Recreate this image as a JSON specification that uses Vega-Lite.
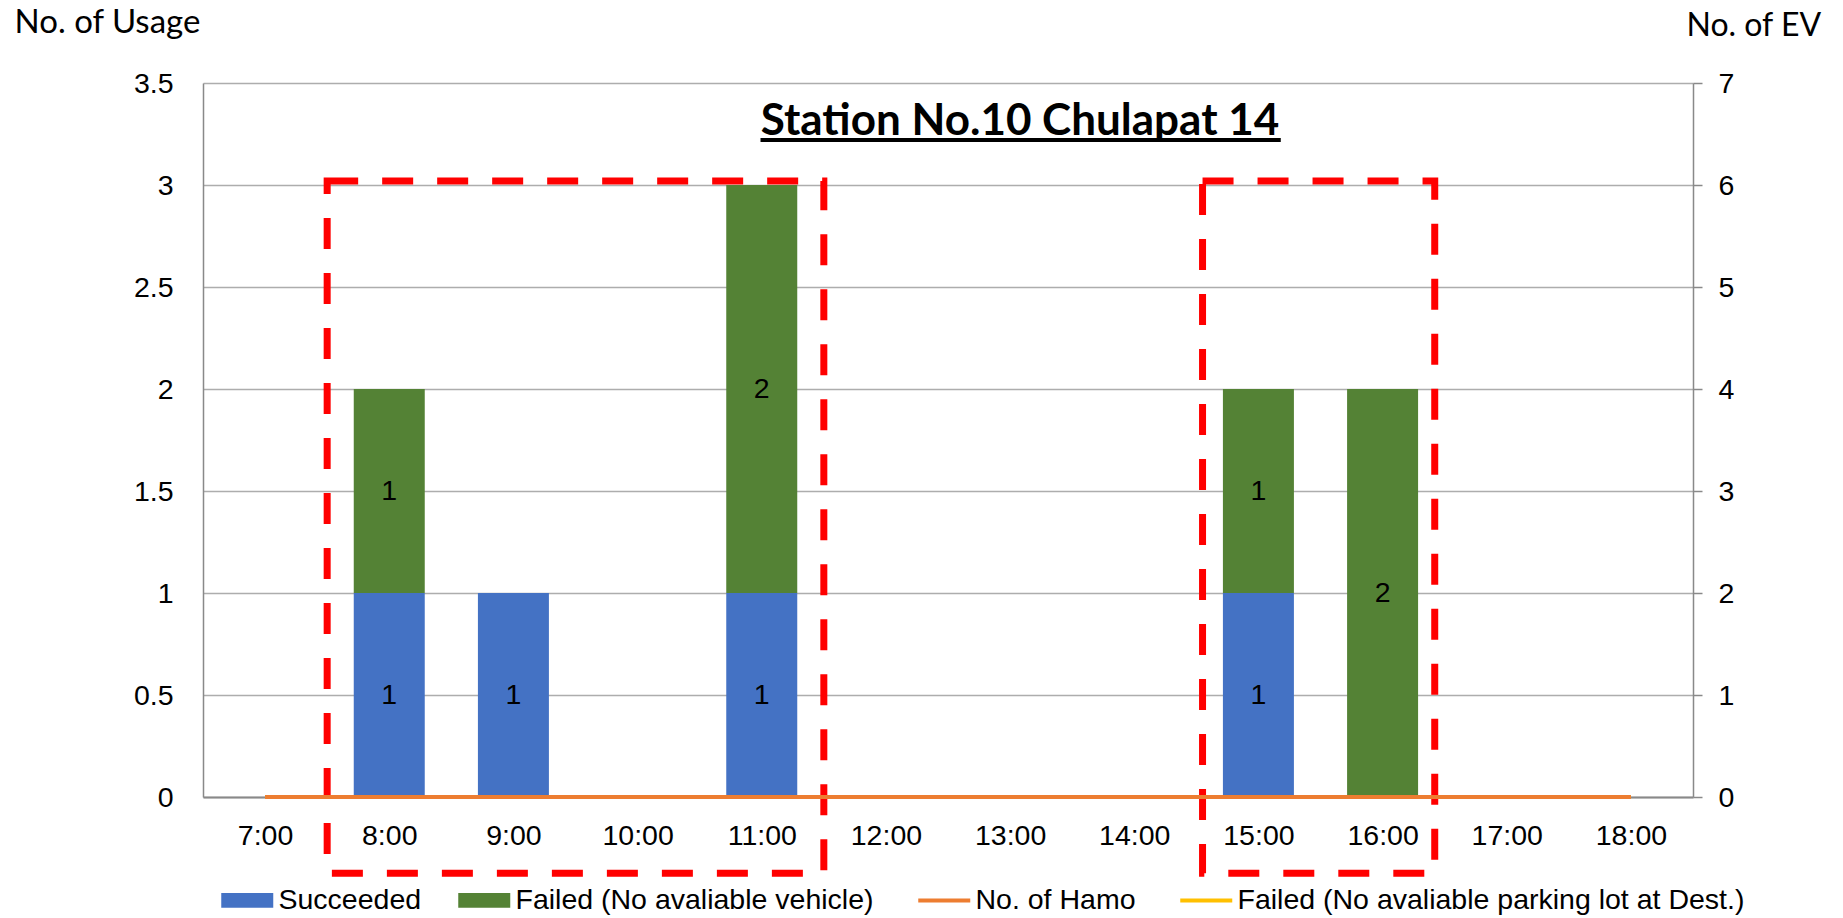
{
  "$schema": "https://vega.github.io/schema/vega-lite/v6.json",
  "width": 1490,
  "height": 714,
  "autosize": {"type": "none"},
  "padding": {"left": 203, "top": 83, "right": 150, "bottom": 121},
  "background": "white",
  "config": {
    "view": {"stroke": null},
    "font": "Liberation Sans",
    "axis": {"labelFont": "Liberation Sans", "labelFontSize": 28.5, "labelColor": "black", "titleColor": "black"}
  },
  "datasets": {
    "bars": [
      {"hour": 7, "series": "Succeeded", "value": 0},
      {"hour": 8, "series": "Succeeded", "value": 1},
      {"hour": 9, "series": "Succeeded", "value": 1},
      {"hour": 10, "series": "Succeeded", "value": 0},
      {"hour": 11, "series": "Succeeded", "value": 1},
      {"hour": 12, "series": "Succeeded", "value": 0},
      {"hour": 13, "series": "Succeeded", "value": 0},
      {"hour": 14, "series": "Succeeded", "value": 0},
      {"hour": 15, "series": "Succeeded", "value": 1},
      {"hour": 16, "series": "Succeeded", "value": 0},
      {"hour": 17, "series": "Succeeded", "value": 0},
      {"hour": 18, "series": "Succeeded", "value": 0},
      {"hour": 7, "series": "Failed (No avaliable vehicle)", "value": 0},
      {"hour": 8, "series": "Failed (No avaliable vehicle)", "value": 1},
      {"hour": 9, "series": "Failed (No avaliable vehicle)", "value": 0},
      {"hour": 10, "series": "Failed (No avaliable vehicle)", "value": 0},
      {"hour": 11, "series": "Failed (No avaliable vehicle)", "value": 2},
      {"hour": 12, "series": "Failed (No avaliable vehicle)", "value": 0},
      {"hour": 13, "series": "Failed (No avaliable vehicle)", "value": 0},
      {"hour": 14, "series": "Failed (No avaliable vehicle)", "value": 0},
      {"hour": 15, "series": "Failed (No avaliable vehicle)", "value": 1},
      {"hour": 16, "series": "Failed (No avaliable vehicle)", "value": 2},
      {"hour": 17, "series": "Failed (No avaliable vehicle)", "value": 0},
      {"hour": 18, "series": "Failed (No avaliable vehicle)", "value": 0}
    ],
    "lines": [
      {"hour": 7, "series": "No. of Hamo", "value": 0},
      {"hour": 8, "series": "No. of Hamo", "value": 0},
      {"hour": 9, "series": "No. of Hamo", "value": 0},
      {"hour": 10, "series": "No. of Hamo", "value": 0},
      {"hour": 11, "series": "No. of Hamo", "value": 0},
      {"hour": 12, "series": "No. of Hamo", "value": 0},
      {"hour": 13, "series": "No. of Hamo", "value": 0},
      {"hour": 14, "series": "No. of Hamo", "value": 0},
      {"hour": 15, "series": "No. of Hamo", "value": 0},
      {"hour": 16, "series": "No. of Hamo", "value": 0},
      {"hour": 17, "series": "No. of Hamo", "value": 0},
      {"hour": 18, "series": "No. of Hamo", "value": 0},
      {"hour": 7, "series": "Failed (No avaliable parking lot at Dest.)", "value": 0},
      {"hour": 8, "series": "Failed (No avaliable parking lot at Dest.)", "value": 0},
      {"hour": 9, "series": "Failed (No avaliable parking lot at Dest.)", "value": 0},
      {"hour": 10, "series": "Failed (No avaliable parking lot at Dest.)", "value": 0},
      {"hour": 11, "series": "Failed (No avaliable parking lot at Dest.)", "value": 0},
      {"hour": 12, "series": "Failed (No avaliable parking lot at Dest.)", "value": 0},
      {"hour": 13, "series": "Failed (No avaliable parking lot at Dest.)", "value": 0},
      {"hour": 14, "series": "Failed (No avaliable parking lot at Dest.)", "value": 0},
      {"hour": 15, "series": "Failed (No avaliable parking lot at Dest.)", "value": 0},
      {"hour": 16, "series": "Failed (No avaliable parking lot at Dest.)", "value": 0},
      {"hour": 17, "series": "Failed (No avaliable parking lot at Dest.)", "value": 0},
      {"hour": 18, "series": "Failed (No avaliable parking lot at Dest.)", "value": 0}
    ],
    "boxes": [
      {"from": 7.5, "to": 11.5, "top": 3.02, "bottom": -0.374},
      {"from": 14.55, "to": 16.42, "top": 3.02, "bottom": -0.374}
    ],
    "title": [
      {"label": "Station No.10 Chulapat 14", "hour": 13.08, "v": 3.245}
    ],
    "underline": [
      {"from": 10.99, "to": 15.18, "v": 3.22}
    ]
  },
  "layer": [
    {
      "layer": [
        {
          "data": {"name": "bars"},
          "mark": {"type": "bar", "size": 71},
          "encoding": {
            "x": {
              "field": "hour", "type": "quantitative",
              "scale": {"domain": [6.5, 18.5], "nice": false, "zero": false, "padding": 0},
              "axis": {"values": [7, 8, 9, 10, 11, 12, 13, 14, 15, 16, 17, 18], "labelExpr": "datum.value + ':00'", "grid": false, "ticks": false, "domainColor": "#898989", "domainWidth": 2, "labelPadding": 24, "title": null}
            },
            "y": {
              "field": "value", "type": "quantitative", "stack": "zero",
              "scale": {"domain": [0, 3.5], "nice": false},
              "axis": {"values": [0, 0.5, 1, 1.5, 2, 2.5, 3, 3.5], "format": "~g", "ticks": false, "labelPadding": 30, "grid": true, "gridColor": "#ADADAD", "gridWidth": 1.5, "domainColor": "#898989", "domainWidth": 1.5, "title": "No. of Usage", "titleAngle": 0, "titleAlign": "left", "titleBaseline": "alphabetic", "titleX": -189, "titleY": -51, "titleFont": "Lato", "titleFontSize": 33, "titleFontWeight": "normal"}
            },
            "color": {
              "field": "series", "type": "nominal",
              "scale": {"domain": ["Succeeded", "Failed (No avaliable vehicle)", "No. of Hamo", "Failed (No avaliable parking lot at Dest.)"], "range": ["#4472C4", "#548235", "#ED7D31", "#FFC000"]},
              "legend": {
                "title": null, "orient": "none", "legendX": 30, "legendY": 803, "direction": "horizontal",
                "symbolSize": 2704, "labelFont": "Liberation Sans", "labelFontSize": 28.5, "labelColor": "black", "labelLimit": 0, "labelOffset": 17, "columnPadding": 36, "padding": 0,
                "encode": {"symbols": {"update": {
                  "shape": {"signal": "(datum.value === 'No. of Hamo' || datum.value === 'Failed (No avaliable parking lot at Dest.)') ? 'stroke' : 'M-1,-0.28H1V0.28H-1Z'"},
                  "fill": {"signal": "(datum.value === 'No. of Hamo' || datum.value === 'Failed (No avaliable parking lot at Dest.)') ? 'transparent' : scale('color', datum.value)"},
                  "stroke": {"signal": "(datum.value === 'No. of Hamo' || datum.value === 'Failed (No avaliable parking lot at Dest.)') ? scale('color', datum.value) : 'transparent'"},
                  "strokeWidth": {"signal": "(datum.value === 'No. of Hamo' || datum.value === 'Failed (No avaliable parking lot at Dest.)') ? 4 : 0"},
                  "opacity": {"value": 1}, "fillOpacity": {"value": 1}, "strokeOpacity": {"value": 1}
                }}}
              }
            },
            "order": {"field": "series", "sort": "descending"}
          }
        },
        {
          "data": {"name": "bars"},
          "transform": [{"filter": "datum.value > 0"}],
          "mark": {"type": "text", "font": "Liberation Sans", "fontSize": 28.5, "color": "black", "baseline": "middle", "align": "center"},
          "encoding": {
            "x": {"field": "hour", "type": "quantitative", "scale": {"domain": [6.5, 18.5], "nice": false, "zero": false, "padding": 0}},
            "y": {"field": "value", "type": "quantitative", "stack": "zero", "bandPosition": 0.5, "scale": {"domain": [0, 3.5], "nice": false}},
            "detail": {"field": "series"},
            "order": {"field": "series", "sort": "descending"},
            "text": {"field": "value", "type": "quantitative"}
          }
        },
        {
          "data": {"name": "boxes"},
          "mark": {"type": "rect", "fill": "transparent", "stroke": "#FF0000", "strokeWidth": 7, "strokeDash": [31, 24], "clip": false},
          "encoding": {
            "x": {"field": "from", "type": "quantitative", "scale": {"domain": [6.5, 18.5], "nice": false, "zero": false, "padding": 0}},
            "x2": {"field": "to"},
            "y": {"field": "top", "type": "quantitative", "scale": {"domain": [0, 3.5], "nice": false}},
            "y2": {"field": "bottom"}
          }
        },
        {
          "data": {"name": "title"},
          "mark": {"type": "text", "font": "Lato", "fontWeight": "bold", "fontSize": 44, "color": "black", "align": "center", "baseline": "alphabetic"},
          "encoding": {
            "x": {"field": "hour", "type": "quantitative", "scale": {"domain": [6.5, 18.5], "nice": false, "zero": false, "padding": 0}},
            "y": {"field": "v", "type": "quantitative", "scale": {"domain": [0, 3.5], "nice": false}},
            "text": {"field": "label"}
          }
        },
        {
          "data": {"name": "underline"},
          "mark": {"type": "rule", "color": "black", "strokeWidth": 4},
          "encoding": {
            "x": {"field": "from", "type": "quantitative", "scale": {"domain": [6.5, 18.5], "nice": false, "zero": false, "padding": 0}},
            "x2": {"field": "to"},
            "y": {"field": "v", "type": "quantitative", "scale": {"domain": [0, 3.5], "nice": false}}
          }
        }
      ]
    },
    {
      "layer": [
        {
          "data": {"name": "lines"},
          "transform": [{"filter": "datum.series === 'Failed (No avaliable parking lot at Dest.)'"}],
          "mark": {"type": "line", "strokeWidth": 4},
          "encoding": {
            "x": {"field": "hour", "type": "quantitative", "scale": {"domain": [6.5, 18.5], "nice": false, "zero": false, "padding": 0}},
            "y": {
              "field": "value", "type": "quantitative",
              "scale": {"domain": [0, 7], "nice": false},
              "axis": {"orient": "right", "values": [0, 1, 2, 3, 4, 5, 6, 7], "format": "d", "grid": false, "tickSize": 9, "tickColor": "#898989", "tickWidth": 1.5, "domainColor": "#898989", "domainWidth": 1.5, "labelPadding": 16, "title": "No. of EV", "titleAngle": 0, "titleAlign": "left", "titleBaseline": "alphabetic", "titleX": -7, "titleY": -48, "titleFont": "Lato", "titleFontSize": 32, "titleFontWeight": "normal"}
            },
            "color": {
              "field": "series", "type": "nominal",
              "scale": {"domain": ["Succeeded", "Failed (No avaliable vehicle)", "No. of Hamo", "Failed (No avaliable parking lot at Dest.)"], "range": ["#4472C4", "#548235", "#ED7D31", "#FFC000"]}
            }
          }
        },
        {
          "data": {"name": "lines"},
          "transform": [{"filter": "datum.series === 'No. of Hamo'"}],
          "mark": {"type": "line", "strokeWidth": 4},
          "encoding": {
            "x": {"field": "hour", "type": "quantitative", "scale": {"domain": [6.5, 18.5], "nice": false, "zero": false, "padding": 0}},
            "y": {"field": "value", "type": "quantitative", "scale": {"domain": [0, 7], "nice": false}},
            "color": {"field": "series", "type": "nominal"}
          }
        }
      ]
    }
  ],
  "resolve": {"scale": {"y": "independent"}}
}
